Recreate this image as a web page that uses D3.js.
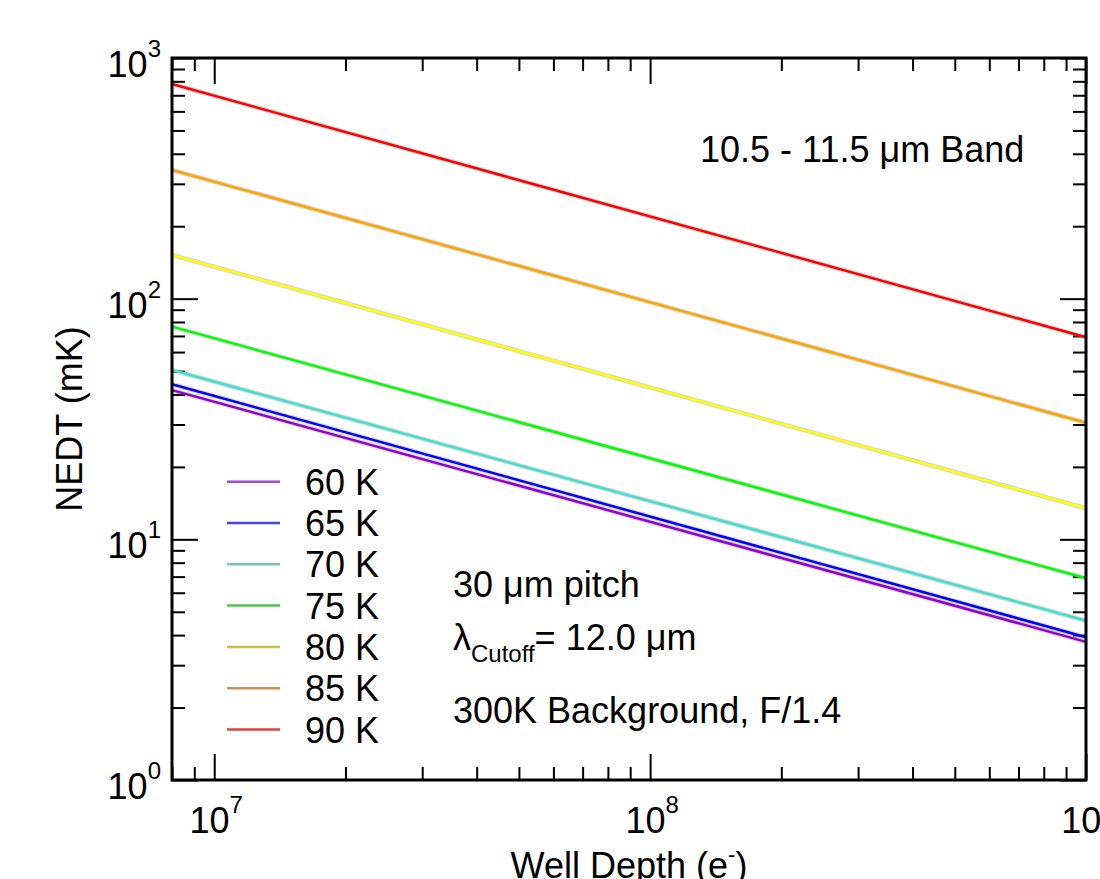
<!DOCTYPE html>
<html>
    <head>
        <meta charset="utf-8">
        <title>NEDT vs well depth</title>
        <style>
         body { margin: 0; background: #fff; }
         text { font-family: "Liberation Sans", Arial, Helvetica, sans-serif; fill: #000; }
        </style>
    </head>
    <body>
        <div id="chart"></div>
        <script src="https://cdn.jsdelivr.net/npm/d3@7"></script>
        <script>
         // values, at the two ends of each line
         var wellDepth = [8e6, 1e9]
         var seriesNames = ["60 K", "65 K", "70 K", "75 K", "80 K", "85 K", "90 K"]
         var nedt60 = [41.7, 3.75]
         var nedt65 = [44.1, 3.92]
         var nedt70 = [50.5, 4.59]
         var nedt75 = [76.5, 6.89]
         var nedt80 = [151.9, 13.46]
         var nedt85 = [342.5, 30.5]
         var nedt90 = [780, 69.1]
         var xMajor = [1e7, 1e8, 1e9]
         var yMajor = [1, 10, 100, 1000]
         var notes = ["30 \u03bcm pitch", "300K Background, F/1.4"]

         var allSeries = [nedt60, nedt65, nedt70, nedt75, nedt80, nedt85, nedt90]
         // xmgrace default palette
         var colors = ["#9400d3", "#0000ff", "#40e0d0", "#00ff00", "#ffff00", "#ffa500", "#ff0000"]
         var legendColors = ["#9a4fc4", "#4646e0", "#70c4c0", "#4cc84c", "#c4c444", "#c49450", "#d24444"]

         var W = 1100, H = 879
         var svg = d3.select("#chart").append("svg")
                     .attr("width", W).attr("height", H)

         var x = d3.scaleLog().domain([8e6, 1e9]).range([172, 1086])
         var y = d3.scaleLog().domain([1, 1000]).range([780, 58])

         function minors(lo, hi){
             var out = []
             for (var e = lo; e < hi; e++)
                 for (var m = 2; m <= 9; m++) out.push(m * Math.pow(10, e))
             return out
         }
         var xMinor = minors(6, 9).filter(function(v){ return v >= 8e6 && v <= 1e9 })
         var yMinor = minors(0, 3)

         // ticks on all four sides, pointing in
         function addAxis(axis, tx, ty){
             var g = svg.append("g")
                        .attr("transform", "translate(" + tx + "," + ty + ")")
                        .call(axis)
             g.select(".domain").remove()
             g.selectAll(".tick line").attr("stroke", "#000").attr("stroke-width", 2)
             return g
         }
         var yBot = y.range()[0], yTop = y.range()[1]
         var xLeft = x.range()[0], xRight = x.range()[1]
         addAxis(d3.axisBottom(x).tickValues(xMajor).tickSize(-26).tickFormat(""), 0, yBot)
         addAxis(d3.axisBottom(x).tickValues(xMinor).tickSize(-13).tickFormat(""), 0, yBot)
         addAxis(d3.axisTop(x).tickValues(xMajor).tickSize(-26).tickFormat(""), 0, yTop)
         addAxis(d3.axisTop(x).tickValues(xMinor).tickSize(-13).tickFormat(""), 0, yTop)
         addAxis(d3.axisLeft(y).tickValues(yMajor).tickSize(-26).tickFormat(""), xLeft, 0)
         addAxis(d3.axisLeft(y).tickValues(yMinor).tickSize(-13).tickFormat(""), xLeft, 0)
         addAxis(d3.axisRight(y).tickValues(yMajor).tickSize(-26).tickFormat(""), xRight, 0)
         addAxis(d3.axisRight(y).tickValues(yMinor).tickSize(-13).tickFormat(""), xRight, 0)

         // data lines
         var line = d3.line()
                      .x(function(d){ return x(d[0]) })
                      .y(function(d){ return y(d[1]) })
         var lines = svg.append("g")
         allSeries.forEach(function(s, i){
             var pts = wellDepth.map(function(w, j){ return [w, s[j]] })
             lines.append("path").datum(pts)
                  .attr("d", line).attr("fill", "none")
                  .attr("stroke", "#888").attr("stroke-opacity", 0.35)
                  .attr("stroke-width", 4.5)
             lines.append("path").datum(pts)
                  .attr("d", line).attr("fill", "none")
                  .attr("stroke", colors[i]).attr("stroke-width", 2.5)
         })

         // frame
         svg.append("rect")
            .attr("x", xLeft).attr("y", yTop)
            .attr("width", xRight - xLeft).attr("height", yBot - yTop)
            .attr("fill", "none").attr("stroke", "#000").attr("stroke-width", 3)

         // tick labels as 10^n
         function pow10(sel, v){
             var n = Math.round(Math.log10(v))
             sel.append("tspan").text("10")
             sel.append("tspan").attr("font-size", 24).attr("dy", -20).text(n)
         }
         xMajor.forEach(function(v){
             svg.append("text").attr("x", x(v) + 2).attr("y", yBot + 53)
                .attr("font-size", 36).attr("text-anchor", "middle")
                .call(pow10, v)
         })
         yMajor.forEach(function(v){
             svg.append("text").attr("x", 161).attr("y", y(v) + 19)
                .attr("font-size", 36).attr("text-anchor", "end")
                .call(pow10, v)
         })

         // axis titles
         svg.append("text")
            .attr("transform", "translate(82," + (yTop + yBot) / 2 + ") rotate(-90)")
            .attr("font-size", 36).attr("text-anchor", "middle")
            .text("NEDT (mK)")
         var xt = svg.append("text")
                     .attr("x", (xLeft + xRight) / 2).attr("y", 878)
                     .attr("font-size", 36).attr("text-anchor", "middle")
         xt.append("tspan").text("Well Depth (e")
         xt.append("tspan").attr("font-size", 22).attr("dy", -16).text("-")
         xt.append("tspan").attr("dy", 16).text(")")

         // legend
         var leg = svg.append("g")
         seriesNames.forEach(function(name, i){
             var ly = 481.7 + i * 41.3
             leg.append("line").attr("x1", 227).attr("x2", 280)
                .attr("y1", ly).attr("y2", ly)
                .attr("stroke", legendColors[i]).attr("stroke-width", 2.5)
             leg.append("text").attr("x", 305).attr("y", ly + 13)
                .attr("font-size", 36).text(name)
         })

         // annotations
         svg.append("text").attr("x", 700).attr("y", 162)
            .attr("font-size", 36).text("10.5 - 11.5 \u03bcm Band")
         svg.append("text").attr("x", 453).attr("y", 597)
            .attr("font-size", 36).text(notes[0])
         var lam = svg.append("text").attr("x", 453).attr("y", 650).attr("font-size", 36)
         lam.append("tspan").text("\u03bb")
         lam.append("tspan").attr("font-size", 24).attr("dy", 12).text("Cutoff")
         lam.append("tspan").attr("dy", -12).text("= 12.0 \u03bcm")
         svg.append("text").attr("x", 453).attr("y", 723)
            .attr("font-size", 36).text(notes[1])
        </script>
    </body>
</html>
